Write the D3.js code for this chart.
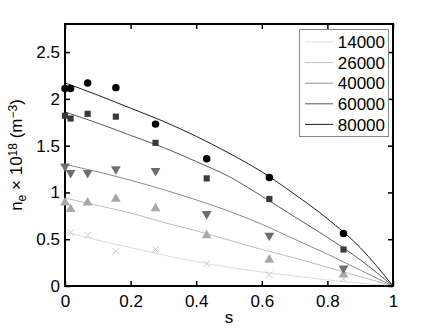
<!DOCTYPE html>
<html>
<head>
<meta charset="utf-8">
<script src="https://unpkg.com/d3@7/dist/d3.min.js"></script>
<style>
body { margin: 0; background: #fff; }
text { font-family: "Liberation Sans", Arial, sans-serif; }
</style>
</head>
<body>
<div class="chart"></div>
<script>
// measured positions (normalised radius s)
const sMeas = [0, 0.017, 0.069, 0.155, 0.276, 0.432, 0.623, 0.849];
const ne80000 = [2.11, 2.11, 2.17, 2.12, 1.73, 1.36, 1.16, 0.56];
const ne60000 = [1.82, 1.79, 1.84, 1.81, 1.53, 1.15, 0.93, 0.39];
const ne40000 = [1.28, 1.21, 1.21, 1.25, 1.23, 0.77, 0.54, 0.19];
const ne26000 = [0.89, 0.82, 0.89, 0.93, 0.83, 0.54, 0.28, 0.12];
const ne14000 = [null, 0.57, 0.54, 0.37, 0.39, 0.24, 0.12, 0.075];

// fitted profiles
const sFit = [0, 0.1, 0.2, 0.3, 0.4, 0.5, 0.6, 0.7, 0.8, 0.9, 1];
const fit80000 = [2.17, 2.04, 1.9, 1.76, 1.6, 1.42, 1.22, 0.98, 0.72, 0.41, 0];
const fit60000 = [1.86, 1.74, 1.61, 1.48, 1.33, 1.17, 0.96, 0.74, 0.52, 0.28, 0];
const fit40000 = [1.3, 1.22, 1.13, 1.03, 0.92, 0.8, 0.66, 0.5, 0.34, 0.17, 0];
const fit26000 = [0.94, 0.86, 0.78, 0.68, 0.59, 0.49, 0.39, 0.3, 0.2, 0.1, 0];
const fit14000 = [0.58, 0.49, 0.41, 0.33, 0.26, 0.2, 0.15, 0.105, 0.065, 0.03, 0];

const names = ["14000", "26000", "40000", "60000", "80000"];
const xTicks = [0, 0.2, 0.4, 0.6, 0.8, 1];
const yTicks = [0, 0.5, 1, 1.5, 2, 2.5];

const series = [
	{ name: "14000", pts: ne14000, fit: fit14000, line: "#dcdcdc", mark: "#c8c8c8", sym: "x" },
	{ name: "26000", pts: ne26000, fit: fit26000, line: "#bdbdbd", mark: "#a8a8a8", sym: "up" },
	{ name: "40000", pts: ne40000, fit: fit40000, line: "#8c8c8c", mark: "#6e6e6e", sym: "down" },
	{ name: "60000", pts: ne60000, fit: fit60000, line: "#5a5a5a", mark: "#3a3a3a", sym: "square" },
	{ name: "80000", pts: ne80000, fit: fit80000, line: "#1e1e1e", mark: "#000", sym: "circle" },
];

const W = 436, H = 328;
const x = d3.scaleLinear().domain([0, 1]).range([65, 393]);
const y = d3.scaleLinear().domain([0, 2.8]).range([286, 24]);

const svg = d3.select(".chart").append("svg")
	.attr("width", W).attr("height", H);

// fit lines
const line = d3.line()
	.x((d) => x(d[0]))
	.y((d) => y(d[1]))
	.curve(d3.curveMonotoneX);

series.forEach((s) => {
	svg.append("path")
		.attr("d", line(sFit.map((v, i) => [v, s.fit[i]])))
		.attr("fill", "none")
		.attr("stroke", s.line)
		.attr("stroke-width", 1);
});

// axes
const fmt = (d) => String(d);
svg.append("g")
	.attr("transform", `translate(0,${y(0)})`)
	.call(d3.axisBottom(x).tickValues(xTicks).tickFormat(fmt).tickSize(-5).tickPadding(9));
svg.append("g")
	.attr("transform", `translate(0,${y(2.8)})`)
	.call(d3.axisTop(x).tickValues(xTicks).tickFormat("").tickSize(-5));
svg.append("g")
	.attr("transform", `translate(${x(0)},0)`)
	.call(d3.axisLeft(y).tickValues(yTicks).tickFormat(fmt).tickSize(-5).tickPadding(5));
svg.append("g")
	.attr("transform", `translate(${x(1)},0)`)
	.call(d3.axisRight(y).tickValues(yTicks).tickFormat("").tickSize(-5));

svg.selectAll(".domain").remove();
svg.selectAll(".tick line").attr("stroke", "#000").attr("stroke-width", 1.5);
svg.selectAll(".tick text")
	.attr("fill", "#000")
	.style("font-size", "17px")
	.style("font-family", "'Liberation Sans', Arial, sans-serif");

svg.append("rect")
	.attr("x", x(0)).attr("y", y(2.8))
	.attr("width", x(1) - x(0)).attr("height", y(0) - y(2.8))
	.attr("fill", "none").attr("stroke", "#000").attr("stroke-width", 2);

// markers
const symOf = {
	circle: d3.symbol(d3.symbolCircle, 44),
	square: d3.symbol(d3.symbolSquare, 38),
	up: d3.symbol(d3.symbolTriangle, 42),
	down: d3.symbol(d3.symbolTriangle, 42),
	x: d3.symbol(d3.symbolTimes, 30),
};

series.forEach((s) => {
	const data = sMeas.map((v, i) => [v, s.pts[i]]).filter((d) => d[1] != null);
	svg.append("g").selectAll("path")
		.data(data)
		.enter()
		.append("path")
		.attr("d", symOf[s.sym])
		.attr("transform", (d) =>
			`translate(${x(d[0])},${y(d[1])})` + (s.sym === "down" ? " rotate(180)" : ""))
		.attr("fill", s.sym === "x" ? "none" : s.mark)
		.attr("stroke", s.sym === "x" ? s.mark : "none")
		.attr("stroke-width", 1);
});

// legend
const legend = svg.append("g");
legend.append("rect")
	.attr("x", 299.5).attr("y", 29.5)
	.attr("width", 89).attr("height", 107)
	.attr("fill", "#fff").attr("stroke", "#888").attr("stroke-width", 1);

legend.selectAll("line")
	.data(series)
	.enter()
	.append("line")
	.attr("x1", 305).attr("x2", 333)
	.attr("y1", (d, i) => 42 + 20.6 * i)
	.attr("y2", (d, i) => 42 + 20.6 * i)
	.attr("stroke", (d) => d.line)
	.attr("stroke-width", 1);

legend.selectAll("text")
	.data(names)
	.enter()
	.append("text")
	.text((d) => d)
	.attr("x", 385)
	.attr("y", (d, i) => 42 + 20.6 * i)
	.attr("dy", "0.36em")
	.attr("text-anchor", "end")
	.style("font-size", "17px");

// axis titles
svg.append("text")
	.attr("x", (x(0) + x(1)) / 2)
	.attr("y", 323)
	.attr("text-anchor", "middle")
	.style("font-size", "17px")
	.text("s");

const yt = svg.append("text")
	.attr("transform", `translate(22,${(y(0) + y(2.8)) / 2}) rotate(-90)`)
	.attr("text-anchor", "middle")
	.style("font-size", "17px");
yt.append("tspan").text("n");
yt.append("tspan").attr("baseline-shift", "-30%").style("font-size", "12px").text("e");
yt.append("tspan").text(" \u00d7 10");
yt.append("tspan").attr("baseline-shift", "45%").style("font-size", "12px").text("18");
yt.append("tspan").text(" (m");
yt.append("tspan").attr("baseline-shift", "45%").style("font-size", "12px").text("\u22123");
yt.append("tspan").text(")");
</script>
</body>
</html>
